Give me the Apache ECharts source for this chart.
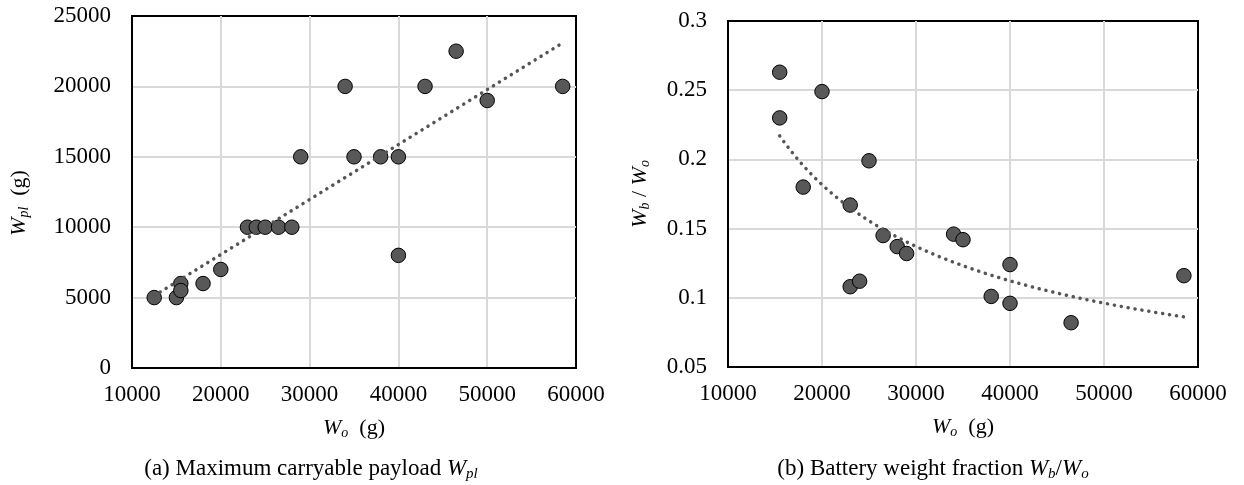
<!DOCTYPE html>
<html><head><meta charset="utf-8">
<script src="https://cdn.jsdelivr.net/npm/echarts@6/dist/echarts.min.js"></script>
<style>html,body{margin:0;padding:0;background:#fff}#c{width:1244px;height:485px}</style>
</head><body><div id="c"></div>
<script>
// ---- data ----
const xTicks  = [10000, 20000, 30000, 40000, 50000, 60000];
const yTicksA = [0, 5000, 10000, 15000, 20000, 25000];
const yTicksB = [0.05, 0.1, 0.15, 0.2, 0.25, 0.3];

const woA  = [12500, 15000, 15500, 15500, 18000, 20000, 23000, 24000, 25000, 26500, 28000, 29000, 34000, 35000, 38000, 40000, 40000, 43000, 46500, 50000, 58500];
const wplA = [5000, 5000, 6000, 5500, 6000, 7000, 10000, 10000, 10000, 10000, 10000, 15000, 20000, 15000, 15000, 15000, 8000, 20000, 22500, 19000, 20000];

const woB   = [15500, 15500, 18000, 20000, 23000, 23000, 24000, 25000, 26500, 28000, 29000, 34000, 35000, 38000, 40000, 40000, 46500, 58500];
const fracB = [0.263, 0.230, 0.180, 0.249, 0.167, 0.108, 0.112, 0.199, 0.145, 0.137, 0.132, 0.146, 0.142, 0.101, 0.124, 0.096, 0.082, 0.116];

const captionA = '(a) Maximum carryable payload ';
const captionB = '(b) Battery weight fraction ';

// ---- trendlines (least squares from the data, as the spreadsheet does) ----
function linFit(xs, ys) {
  const n = xs.length;
  const mx = xs.reduce((a, b) => a + b, 0) / n, my = ys.reduce((a, b) => a + b, 0) / n;
  let sxy = 0, sxx = 0;
  for (let i = 0; i < n; i++) { sxy += (xs[i] - mx) * (ys[i] - my); sxx += (xs[i] - mx) ** 2; }
  const b = sxy / sxx, a = my - b * mx;
  const x0 = Math.min(...xs), x1 = Math.max(...xs);
  return [[x0, a + b * x0], [x1, a + b * x1]];
}
function powFit(xs, ys, steps) {
  const lx = xs.map(Math.log), ly = ys.map(Math.log);
  const n = xs.length;
  const mx = lx.reduce((a, b) => a + b, 0) / n, my = ly.reduce((a, b) => a + b, 0) / n;
  let sxy = 0, sxx = 0;
  for (let i = 0; i < n; i++) { sxy += (lx[i] - mx) * (ly[i] - my); sxx += (lx[i] - mx) ** 2; }
  const b = sxy / sxx, a = my - b * mx;
  const x0 = Math.min(...xs), x1 = Math.max(...xs);
  const out = [];
  for (let i = 0; i <= steps; i++) {
    const x = x0 + (x1 - x0) * i / steps;
    out.push([x, Math.exp(a + b * Math.log(x))]);
  }
  return out;
}

const F = '"Liberation Serif", "Times New Roman", serif';
const rich = {
  i: { fontFamily: F, fontSize: 22, fontStyle: 'italic', color: '#000', lineHeight: 24 },
  s: { fontFamily: F, fontSize: 14, fontStyle: 'italic', color: '#000', lineHeight: 6, verticalAlign: 'bottom' },
  n: { fontFamily: F, fontSize: 22, color: '#000', lineHeight: 24 }
};
const capRich = {
  i: { fontFamily: F, fontSize: 23, fontStyle: 'italic', color: '#000', lineHeight: 26 },
  s: { fontFamily: F, fontSize: 15, fontStyle: 'italic', color: '#000', lineHeight: 6, verticalAlign: 'bottom' },
  n: { fontFamily: F, fontSize: 23, color: '#000', lineHeight: 26 }
};

function mkX(gi, name) {
  return {
    type: 'value', gridIndex: gi,
    min: xTicks[0], max: xTicks[xTicks.length - 1], interval: xTicks[1] - xTicks[0],
    axisLine: { show: true, onZero: false, lineStyle: { color: '#000', width: 2 } },
    axisTick: { show: false },
    axisLabel: { fontFamily: F, fontSize: 23, color: '#000', margin: 15, formatter: v => String(v) },
    splitLine: { show: true, showMinLine: false, showMaxLine: false, lineStyle: { color: '#d9d9d9', width: 2 } },
    name: name, nameLocation: 'middle', nameGap: 48,
    nameTextStyle: { rich: rich }
  };
}
function mkY(gi, ticks, name, gap, pad) {
  return {
    type: 'value', gridIndex: gi,
    min: ticks[0], max: ticks[ticks.length - 1], interval: +(ticks[1] - ticks[0]).toFixed(6),
    axisLine: { show: true, onZero: false, lineStyle: { color: '#000', width: 2 } },
    axisTick: { show: false },
    axisLabel: { fontFamily: F, fontSize: 23, color: '#000', margin: 21, formatter: v => String(+v.toFixed(4)) },
    splitLine: { show: true, showMinLine: false, showMaxLine: false, lineStyle: { color: '#d9d9d9', width: 2 } },
    name: name, nameLocation: 'middle', nameGap: gap, nameRotate: 90,
    nameTextStyle: { rich: rich, padding: pad }
  };
}

const markerStyle = { color: '#585858', borderColor: '#000', borderWidth: 1, opacity: 1 };
const trendStyle = { color: '#555555', width: 3.5, type: [0.1, 6.9], cap: 'round' };

const chart = echarts.init(document.getElementById('c'), null, { renderer: 'canvas' });
chart.setOption({
  animation: false,
  backgroundColor: '#fff',
  grid: [
    { left: 132, top: 16, width: 444, height: 352, show: true, borderColor: '#000', borderWidth: 2, backgroundColor: 'transparent' },
    { left: 728, top: 21, width: 470, height: 346, show: true, borderColor: '#000', borderWidth: 2, backgroundColor: 'transparent' }
  ],
  xAxis: [mkX(0, '{i|W}{s|o}{n|  (g)}'), mkX(1, '{i|W}{s|o}{n|  (g)}')],
  yAxis: [
    mkY(0, yTicksA, '{i|W}{s|pl}{n|  (g)}', 101, [0, 22, 0, 0]),
    mkY(1, yTicksB, '{i|W}{s|b}{n| / }{i|W}{s|o}', 76, 0)
  ],
  series: [
    { type: 'scatter', xAxisIndex: 0, yAxisIndex: 0, symbolSize: 14.5, itemStyle: markerStyle,
      data: woA.map((x, i) => [x, wplA[i]]), z: 3 },
    { type: 'line', xAxisIndex: 0, yAxisIndex: 0, showSymbol: false, symbol: 'none', lineStyle: trendStyle,
      data: linFit(woA, wplA), z: 4 },
    { type: 'scatter', xAxisIndex: 1, yAxisIndex: 1, symbolSize: 14.5, itemStyle: markerStyle,
      data: woB.map((x, i) => [x, fracB[i]]), z: 3 },
    { type: 'line', xAxisIndex: 1, yAxisIndex: 1, showSymbol: false, symbol: 'none', smooth: false, lineStyle: trendStyle,
      data: powFit(woB, fracB, 80), z: 4 }
  ],
  graphic: [
    { type: 'text', x: 311, y: 469,
      style: { text: '{n|' + captionA + '}{i|W}{s|pl}', rich: capRich, align: 'center', verticalAlign: 'middle', textAlign: 'center', textVerticalAlign: 'middle' } },
    { type: 'text', x: 933, y: 469,
      style: { text: '{n|' + captionB + '}{i|W}{s|b}{n|/}{i|W}{s|o}', rich: capRich, align: 'center', verticalAlign: 'middle', textAlign: 'center', textVerticalAlign: 'middle' } }
  ]
});
</script>
</body></html>
